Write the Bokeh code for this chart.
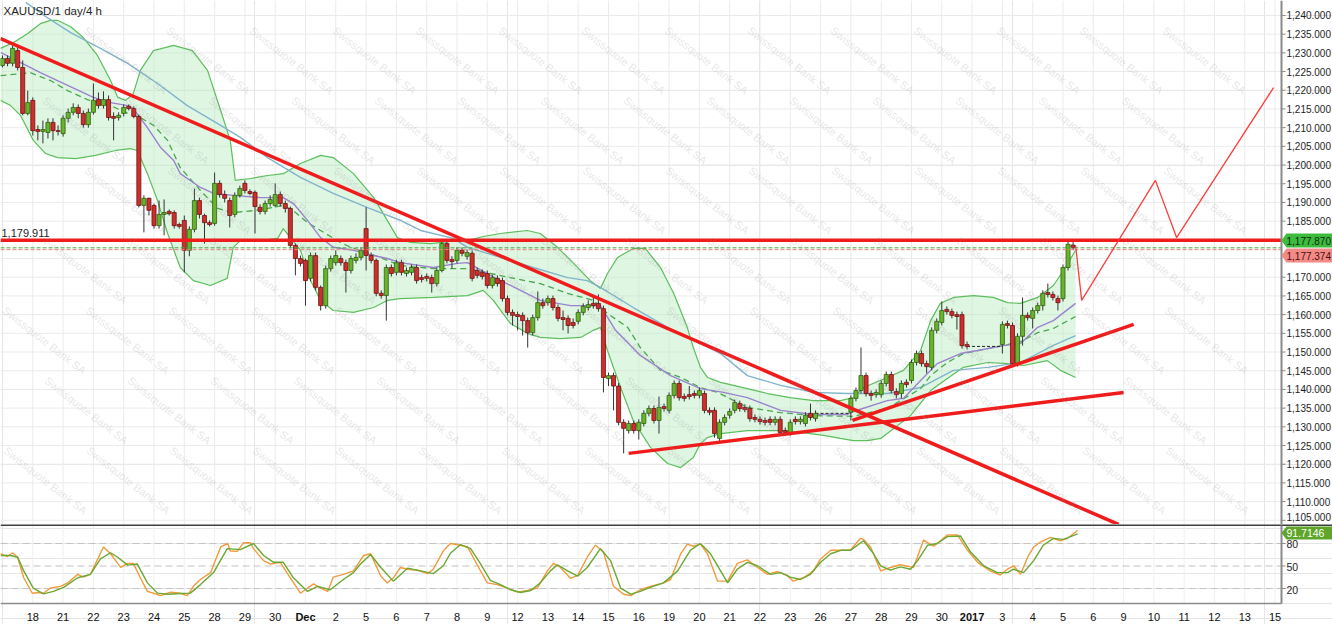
from bokeh.plotting import figure
from bokeh.models import Range1d
from bokeh.layouts import column
from bokeh.embed import file_html
from bokeh.resources import INLINE
from bokeh.core.properties import value

# ---------------- data ----------------
chart_title = "XAUUSD/1 day/4 h"
day_labels = ["18", "21", "22", "23", "24", "25", "28", "29", "30", "Dec", "2", "5", "6", "7", "8", "9",
              "12", "13", "14", "15", "16", "19", "20", "21", "22", "23", "26", "27", "28", "29", "30",
              "2017", "3", "4", "5", "6", "9", "10", "11", "12", "13", "15"]
bold_labels = ["Dec", "2017"]
bars_per_day = 6

# 4h bar index (holiday gaps 162-167 and 192-197 have no bars)
bar_index = list(range(0, 162)) + list(range(168, 192)) + list(range(198, 213))

opens = [1226.6, 1228.5, 1227.2, 1230.6, 1226.1, 1213.8, 1217.3, 1209.5, 1209.0, 1208.7,
         1211.4, 1209.2, 1208.4, 1212.5, 1214.1, 1215.4, 1213.8, 1210.8, 1214.1, 1217.5,
         1215.9, 1217.5, 1213.0, 1212.7, 1213.8, 1215.7, 1215.1, 1213.0, 1189.2, 1191.1,
         1189.2, 1183.8, 1186.8, 1187.6, 1187.3, 1184.1, 1185.2, 1177.2, 1182.8, 1190.5,
         1186.5, 1184.6, 1184.4, 1195.1, 1192.1, 1190.5, 1186.8, 1191.9, 1195.1, 1192.9,
         1192.7, 1188.7, 1187.6, 1189.7, 1189.2, 1192.1, 1189.7, 1188.4, 1178.5, 1175.0,
         1174.5, 1169.7, 1175.8, 1167.3, 1162.4, 1172.3, 1173.9, 1175.0, 1173.9, 1171.8,
         1174.5, 1175.3, 1183.0, 1175.8, 1174.5, 1165.7, 1165.1, 1172.6, 1171.3, 1173.9,
         1171.0, 1171.3, 1172.6, 1169.9, 1170.2, 1169.9, 1168.3, 1171.8, 1179.0, 1174.7,
         1174.5, 1177.2, 1175.6, 1176.4, 1171.8, 1171.3, 1171.0, 1167.8, 1169.7, 1169.1,
         1164.3, 1160.6, 1160.0, 1159.8, 1158.4, 1155.2, 1159.2, 1163.2, 1163.2, 1164.3,
         1161.9, 1159.2, 1159.0, 1157.9, 1158.2, 1160.6, 1161.9, 1163.0, 1163.0, 1161.6,
         1142.9, 1143.7, 1140.9, 1131.2, 1129.0, 1130.9, 1129.0, 1130.9, 1133.6, 1134.9,
         1131.7, 1135.4, 1134.4, 1138.4, 1141.6, 1138.1, 1138.6, 1138.9, 1138.4, 1138.9,
         1134.4, 1134.4, 1126.9, 1131.2, 1133.1, 1134.4, 1136.2, 1135.2, 1134.9, 1132.5,
         1132.0, 1131.7, 1132.0, 1131.2, 1132.0, 1129.0, 1128.5, 1132.0, 1131.4, 1130.9,
         1133.6, 1132.2,
         1133.9, 1137.6, 1139.7, 1143.7, 1138.9, 1138.6, 1138.6, 1141.6, 1144.0, 1139.4,
         1138.9, 1141.9, 1142.4, 1147.2, 1149.6, 1146.9, 1145.9, 1155.8, 1157.9, 1161.4,
         1160.8, 1160.0, 1160.0, 1152.0,
         1152.0, 1157.6, 1157.1, 1146.9, 1154.2, 1159.8, 1159.0, 1161.1, 1162.4, 1165.9,
         1165.4, 1164.3, 1164.3, 1172.6, 1178.6]
highs = [1229.3, 1229.3, 1232.0, 1232.0, 1228.0, 1219.9, 1218.1, 1210.6, 1211.9, 1212.5,
         1212.5, 1210.6, 1213.3, 1215.1, 1216.5, 1216.2, 1214.6, 1215.1, 1221.8, 1219.4,
         1219.7, 1218.6, 1214.1, 1214.1, 1216.2, 1216.2, 1215.7, 1213.5, 1191.9, 1191.3,
         1189.7, 1190.5, 1190.8, 1188.1, 1187.9, 1184.6, 1186.5, 1183.6, 1193.7, 1191.3,
         1187.0, 1185.2, 1198.0, 1195.9, 1193.2, 1191.3, 1192.7, 1194.5, 1195.9, 1193.5,
         1193.2, 1189.5, 1190.5, 1191.9, 1195.1, 1192.9, 1190.5, 1188.9, 1179.0, 1175.8,
         1175.0, 1176.6, 1176.6, 1167.8, 1173.1, 1175.8, 1177.2, 1175.8, 1174.7, 1175.8,
         1176.4, 1178.0, 1188.7, 1176.6, 1175.0, 1166.5, 1173.4, 1173.4, 1174.7, 1174.7,
         1172.6, 1173.4, 1173.4, 1170.7, 1171.0, 1170.7, 1172.6, 1179.8, 1179.8, 1175.6,
         1178.0, 1178.0, 1177.4, 1177.2, 1172.6, 1172.1, 1171.8, 1170.7, 1170.5, 1169.9,
         1165.1, 1161.4, 1160.8, 1160.6, 1159.2, 1160.0, 1166.2, 1164.3, 1165.1, 1165.1,
         1162.7, 1161.1, 1159.8, 1159.0, 1161.4, 1163.0, 1163.8, 1165.1, 1165.4, 1162.4,
         1144.5, 1144.5, 1141.7, 1132.0, 1131.7, 1131.7, 1132.0, 1134.4, 1135.7, 1135.7,
         1138.1, 1136.2, 1139.2, 1142.4, 1142.4, 1138.9, 1140.9, 1139.7, 1140.5, 1139.7,
         1135.2, 1135.2, 1132.0, 1133.3, 1134.9, 1137.3, 1137.0, 1136.0, 1135.7, 1133.3,
         1132.8, 1132.5, 1132.8, 1132.8, 1132.8, 1129.8, 1132.0, 1132.8, 1132.8, 1133.9,
         1136.2, 1134.4,
         1138.4, 1140.5, 1151.2, 1144.5, 1139.7, 1140.0, 1142.4, 1144.8, 1144.8, 1140.3,
         1142.4, 1142.7, 1148.0, 1150.4, 1150.4, 1147.7, 1156.6, 1159.0, 1163.5, 1162.2,
         1161.6, 1160.8, 1160.8, 1152.8,
         1158.2, 1158.4, 1157.9, 1155.0, 1164.6, 1160.6, 1161.9, 1163.2, 1166.5, 1168.3,
         1166.2, 1165.1, 1173.4, 1179.6, 1179.6]
lows = [1226.1, 1226.4, 1226.4, 1225.3, 1213.3, 1213.3, 1207.9, 1206.6, 1205.8, 1207.1,
        1206.6, 1207.9, 1207.6, 1211.4, 1213.3, 1212.5, 1210.0, 1210.0, 1213.5, 1215.1,
        1215.1, 1211.9, 1206.6, 1211.9, 1213.0, 1214.6, 1212.5, 1188.7, 1182.0, 1186.5,
        1183.0, 1183.0, 1181.2, 1186.5, 1183.0, 1183.0, 1171.3, 1175.6, 1182.0, 1185.7,
        1179.0, 1183.6, 1183.8, 1191.3, 1190.0, 1183.3, 1186.0, 1191.3, 1192.4, 1191.9,
        1181.7, 1186.8, 1186.8, 1188.9, 1188.7, 1188.9, 1187.3, 1177.7, 1170.5, 1172.9,
        1162.4, 1168.9, 1166.5, 1161.1, 1161.6, 1171.5, 1173.1, 1173.1, 1165.9, 1171.0,
        1173.7, 1174.5, 1171.8, 1173.7, 1164.9, 1164.3, 1158.4, 1170.2, 1170.5, 1170.5,
        1170.2, 1170.5, 1168.3, 1168.6, 1168.9, 1165.9, 1167.5, 1171.3, 1173.7, 1172.3,
        1173.7, 1175.6, 1174.7, 1168.9, 1169.7, 1169.4, 1167.0, 1167.0, 1167.5, 1163.5,
        1159.8, 1157.1, 1155.8, 1154.4, 1151.2, 1154.4, 1158.4, 1161.6, 1162.4, 1161.1,
        1158.2, 1155.8, 1155.0, 1156.3, 1157.4, 1159.8, 1161.1, 1161.6, 1160.8, 1139.2,
        1140.9, 1134.4, 1130.4, 1122.9, 1128.2, 1128.2, 1126.6, 1130.1, 1132.8, 1130.9,
        1128.2, 1134.1, 1133.6, 1137.6, 1137.0, 1136.8, 1137.3, 1137.6, 1137.6, 1133.6,
        1133.1, 1127.1, 1126.1, 1130.4, 1132.2, 1133.6, 1134.1, 1133.9, 1131.4, 1131.2,
        1130.6, 1130.4, 1130.4, 1130.4, 1127.6, 1128.0, 1127.6, 1130.6, 1130.6, 1130.1,
        1131.7, 1131.4,
        1131.7, 1136.8, 1138.9, 1138.1, 1137.0, 1137.8, 1137.8, 1140.8, 1138.9, 1137.6,
        1137.6, 1140.5, 1141.6, 1146.4, 1146.1, 1144.3, 1145.1, 1155.0, 1157.1, 1160.0,
        1159.0, 1156.0, 1150.9, 1150.7,
        1149.6, 1156.3, 1146.1, 1146.1, 1151.7, 1158.4, 1156.3, 1160.3, 1161.1, 1164.6,
        1163.8, 1161.1, 1163.5, 1171.8, 1177.2]
closes = [1228.5, 1227.2, 1231.2, 1226.1, 1213.8, 1216.7, 1209.2, 1209.0, 1209.5, 1211.4,
          1209.2, 1209.0, 1212.5, 1214.1, 1215.4, 1213.8, 1210.8, 1214.1, 1217.3, 1215.9,
          1217.5, 1212.7, 1212.5, 1213.3, 1215.4, 1215.1, 1213.0, 1189.2, 1191.1, 1187.9,
          1183.8, 1186.8, 1187.3, 1187.0, 1183.8, 1183.6, 1177.2, 1182.8, 1190.5, 1186.8,
          1184.6, 1184.1, 1195.1, 1192.1, 1191.1, 1186.5, 1191.9, 1193.7, 1193.2, 1192.4,
          1188.9, 1187.6, 1189.7, 1190.8, 1192.1, 1189.7, 1188.4, 1178.5, 1175.0, 1173.7,
          1169.1, 1175.8, 1167.3, 1162.4, 1172.3, 1175.0, 1175.8, 1173.9, 1171.8, 1175.0,
          1175.3, 1177.2, 1175.8, 1174.5, 1165.7, 1165.1, 1172.6, 1171.0, 1173.9, 1171.3,
          1171.8, 1172.6, 1169.1, 1169.4, 1169.7, 1168.3, 1171.8, 1179.0, 1174.5, 1174.2,
          1177.2, 1176.4, 1176.6, 1169.7, 1170.5, 1170.2, 1167.8, 1169.9, 1168.3, 1164.3,
          1160.6, 1159.8, 1159.5, 1158.4, 1155.2, 1159.2, 1163.2, 1162.4, 1164.3, 1161.9,
          1159.0, 1158.7, 1157.1, 1157.1, 1160.6, 1162.2, 1162.7, 1162.4, 1161.6, 1143.2,
          1143.7, 1140.9, 1131.2, 1129.6, 1130.9, 1129.0, 1131.2, 1133.6, 1134.9, 1131.7,
          1135.2, 1134.9, 1138.4, 1141.6, 1137.8, 1137.6, 1138.1, 1138.4, 1139.7, 1134.4,
          1133.9, 1128.2, 1131.2, 1132.5, 1134.1, 1136.5, 1134.9, 1134.6, 1132.2, 1132.0,
          1131.4, 1131.2, 1131.2, 1132.0, 1128.5, 1128.5, 1131.2, 1131.4, 1132.0, 1133.1,
          1132.5, 1133.6,
          1137.6, 1139.7, 1143.7, 1138.9, 1138.4, 1139.2, 1141.6, 1144.0, 1139.7, 1138.6,
          1141.6, 1141.3, 1147.2, 1149.6, 1146.9, 1146.1, 1155.8, 1158.2, 1161.1, 1160.8,
          1159.8, 1159.5, 1151.7, 1151.5,
          1157.4, 1157.1, 1146.9, 1154.2, 1159.8, 1159.2, 1161.1, 1162.4, 1165.7, 1165.4,
          1164.6, 1163.2, 1172.6, 1178.8, 1177.87]

# Bollinger bands / moving averages (bar index, price)
bb_upper_x = [-0.4, 2.2, 5.0, 7.5, 9.5, 10.9, 13.5, 16.0, 18.8, 21.4, 22.8, 24.4, 25.9, 27.3, 29.9,
              33.9, 37.6, 40.6, 43.2, 45.1, 46.1, 49.1, 52.5, 55.6, 59.0, 63.0, 65.5, 69.5, 73.5,
              76.2, 78.2, 80.8, 84.8, 88.7, 92.1, 95.2, 98.6, 103.9, 106.5, 109.9, 113.1, 116.4,
              118.4, 119.8, 121.8, 124.9, 127.3, 130.3, 132.9, 135.6, 136.8, 138.2, 139.6, 142.2,
              147.5, 151.5, 156.0, 160.6, 165.9, 168.5, 170.5, 175.2, 178.4, 181.8, 183.8, 185.7,
              188.3, 192.3, 196.2, 199.0, 201.6, 205.0, 208.1, 210.1, 212.5]
bb_upper_y = [1231.2, 1232.8, 1235.2, 1237.8, 1238.7, 1238.7, 1237.0, 1234.1, 1229.3, 1222.6, 1218.1,
              1217.3, 1219.1, 1225.3, 1230.6, 1232.0, 1230.6, 1225.3, 1214.6, 1206.6, 1195.9, 1196.4,
              1197.2, 1197.7, 1200.4, 1202.6, 1202.0, 1197.7, 1191.3, 1185.2, 1180.6, 1179.3, 1179.0,
              1179.6, 1179.8, 1180.9, 1181.7, 1182.5, 1181.7, 1178.0, 1173.7, 1169.1, 1167.0, 1171.0,
              1175.3, 1177.7, 1177.7, 1172.6, 1165.7, 1156.6, 1151.2, 1145.9, 1143.2, 1141.9, 1140.2,
              1138.9, 1137.8, 1137.0, 1137.0, 1137.8, 1140.5, 1143.2, 1145.1, 1150.4, 1158.4, 1163.0,
              1164.6, 1165.1, 1164.6, 1163.2, 1163.0, 1164.6, 1167.8, 1171.8, 1177.2]
bb_lower_x = [-0.4, 1.6, 3.6, 6.1, 8.5, 10.9, 14.5, 18.4, 22.4, 25.3, 26.7, 28.7, 30.7, 32.7, 35.2,
              37.8, 41.2, 44.5, 45.7, 47.1, 51.1, 54.5, 55.6, 57.0, 59.0, 61.0, 63.0, 65.5, 69.5,
              73.5, 76.2, 78.8, 85.3, 92.1, 95.2, 97.2, 100.6, 103.9, 106.5, 110.5, 114.5, 117.0,
              118.4, 119.8, 122.4, 124.9, 128.3, 131.7, 134.3, 136.8, 138.2, 139.6, 142.2, 147.5,
              154.1, 158.0, 162.6, 165.9, 168.5, 171.3, 173.9, 175.2, 179.8, 183.8, 187.1, 190.3,
              195.1, 199.0, 202.2, 206.9, 209.5, 212.5]
bb_lower_y = [1217.3, 1215.9, 1213.2, 1206.6, 1203.1, 1202.0, 1201.7, 1202.6, 1203.9, 1204.4, 1203.9,
              1197.7, 1190.5, 1181.7, 1172.6, 1169.1, 1167.8, 1169.7, 1178.0, 1179.8, 1179.8, 1180.4,
              1183.0, 1180.6, 1177.2, 1169.1, 1163.8, 1161.1, 1160.6, 1161.9, 1163.8, 1164.3, 1164.6,
              1165.1, 1166.5, 1163.8, 1157.6, 1155.0, 1153.9, 1153.6, 1153.9, 1155.8, 1156.6, 1150.4,
              1140.5, 1131.7, 1124.5, 1120.2, 1119.1, 1121.8, 1125.5, 1127.1, 1128.2, 1129.0, 1129.0,
              1128.5, 1127.7, 1126.9, 1126.3, 1126.3, 1126.9, 1128.2, 1133.0, 1139.7, 1142.9, 1145.9,
              1147.2, 1146.9, 1146.4, 1147.7, 1145.1, 1143.2]
bb_mid_x = [-0.4, 5.5, 9.5, 12.9, 16.8, 21.4, 24.8, 27.3, 29.9, 32.7, 35.2, 39.2, 42.6, 45.7, 49.7,
            52.5, 55.6, 57.6, 60.4, 63.6, 66.9, 69.5, 72.3, 78.8, 85.3, 92.1, 100.6, 106.5, 111.9,
            117.0, 119.8, 123.8, 126.3, 130.3, 134.3, 138.2, 141.6, 147.5, 154.1, 160.6, 168.5,
            175.2, 181.8, 183.8, 187.1, 190.3, 195.1, 199.0, 201.6, 205.0, 208.1, 212.5]
bb_mid_y = [1223.9, 1224.7, 1222.6, 1219.9, 1217.5, 1215.9, 1213.8, 1212.7, 1210.6, 1206.6, 1199.3,
            1193.2, 1188.4, 1187.3, 1187.8, 1188.4, 1189.2, 1187.8, 1184.6, 1182.0, 1179.3, 1177.7,
            1176.6, 1173.1, 1172.3, 1172.3, 1169.9, 1168.3, 1165.7, 1163.8, 1160.3, 1156.6, 1151.2,
            1145.1, 1143.2, 1140.5, 1139.2, 1135.2, 1133.8, 1133.0, 1132.8, 1134.9, 1140.2, 1143.7,
            1147.2, 1149.6, 1150.9, 1152.0, 1152.8, 1155.2, 1156.3, 1159.5]
ma_purple_x = [-0.4, 3.6, 7.5, 12.9, 18.0, 21.4, 24.8, 25.9, 28.7, 31.3, 33.9, 35.2, 39.2, 41.8, 45.7,
               51.1, 55.6, 57.6, 60.4, 63.0, 65.5, 69.5, 73.5, 76.2, 78.8, 85.3, 90.1, 92.1, 96.6,
               100.6, 106.5, 112.5, 118.4, 121.4, 126.3, 132.3, 138.2, 142.8, 147.5, 154.1, 160.6,
               167.3, 168.5, 175.2, 178.4, 181.8, 185.1, 189.7, 193.1, 198.2, 201.6, 205.0, 208.1,
               212.5]
ma_purple_y = [1230.1, 1227.4, 1224.7, 1221.3, 1218.1, 1216.7, 1215.9, 1215.1, 1210.0, 1204.7, 1201.2,
               1197.7, 1194.0, 1192.4, 1191.9, 1191.3, 1191.3, 1189.7, 1185.2, 1180.6, 1178.0, 1177.2,
               1175.8, 1175.0, 1173.9, 1172.6, 1173.7, 1173.9, 1170.5, 1167.8, 1163.8, 1162.4, 1162.4,
               1155.8, 1149.1, 1143.7, 1140.2, 1139.2, 1137.8, 1134.4, 1133.3, 1133.3, 1134.1, 1137.0,
               1137.6, 1142.4, 1146.9, 1149.6, 1150.4, 1151.7, 1152.3, 1156.6, 1158.4, 1163.0]
ma_blue_x = [4.6, 9.1, 13.5, 19.4, 24.8, 30.7, 36.6, 43.2, 47.1, 52.5, 59.0, 65.5, 72.3, 78.8, 82.8,
             89.3, 92.1, 98.6, 105.1, 111.9, 115.8, 118.4, 124.9, 131.7, 138.2, 142.2, 147.5, 154.1,
             160.6, 167.3, 175.2, 181.8, 188.3, 195.1, 201.6, 208.1, 212.5]
ma_blue_y = [1243.5, 1239.2, 1235.4, 1231.2, 1227.2, 1221.8, 1215.9, 1210.6, 1207.4, 1202.0, 1196.7,
             1192.4, 1188.6, 1185.2, 1182.5, 1180.4, 1178.0, 1175.3, 1172.6, 1169.9, 1169.1, 1167.3,
             1161.9, 1156.6, 1152.3, 1149.6, 1143.7, 1141.1, 1139.2, 1138.9, 1138.9, 1140.5, 1145.1,
             1145.9, 1147.2, 1151.8, 1154.4]

# trend lines / projection (bar index, price)
trend_down = ([-0.4, 221.0], [1233.8, 1103.9])
trend_up_low = ([124.0, 222.0], [1122.9, 1139.2])
trend_up_high = ([168.3, 224.0], [1131.7, 1157.4])
projection_x = [212.5, 213.7, 228.3, 232.5, 251.7]
projection_y = [1178.5, 1163.8, 1195.9, 1180.6, 1220.7]
resistance_level = 1179.911
last_price = 1177.870
second_price = 1177.374

# stochastic (bar index, value)
stoch_k_x = [-0.4, 1.0, 2.0, 3.0, 4.2, 5.9, 7.1, 8.1, 9.5, 11.5, 12.9, 14.9, 16.0, 17.4, 20.0, 21.4,
             23.4, 24.8, 25.9, 27.3, 28.7, 29.9, 31.3, 33.3, 35.2, 36.6, 37.8, 39.2, 41.2, 43.2, 44.6,
             45.1, 46.5, 47.7, 49.1, 49.7, 51.7, 53.1, 55.0, 57.0, 59.0, 60.4, 61.6, 63.0, 64.4, 65.5,
             67.5, 69.5, 71.5, 72.9, 74.9, 76.2, 77.4, 78.8, 80.2, 82.2, 84.2, 85.3, 87.3, 88.7,
             90.7, 92.1, 94.1, 96.0, 98.0, 100.0, 102.0, 104.0, 105.9, 107.9, 109.1, 110.5, 112.5,
             113.9, 115.8, 117.4, 119.0, 121.0, 123.0, 124.4, 126.3, 128.3, 130.9, 132.3, 134.3,
             135.6, 136.8, 138.2, 139.6, 141.6, 143.6, 145.5, 147.5, 149.5, 151.5, 153.5, 155.4,
             156.6, 158.6, 160.6, 162.0, 164.0, 166.0, 167.9, 169.9, 170.5, 171.9,
             173.9, 175.8, 177.8, 179.8, 180.4, 182.4, 184.4, 187.1, 189.1, 191.1, 193.1, 195.6,
             197.6, 199.0, 200.2, 201.6, 203.0, 204.2, 205.6, 207.5, 209.5, 210.9, 212.9]
stoch_k_v = [66.3, 62.6, 67.6, 61.7, 34.3, 13.7, 14.6, 13.7, 20.6, 22.8, 27.4, 38.8, 35.2, 38.8, 75.4,
             66.3, 48.1, 53.5, 53.5, 34.3, 16.1, 13.7, 10.6, 15.2, 13.7, 10.6, 22.9, 32.0, 41.1, 75.4,
             80.0, 69.9, 69.5, 80.9, 80.9, 73.2, 57.2, 52.6, 54.9, 34.3, 13.7, 20.6, 26.1, 20.6, 16.1,
             35.2, 38.8, 43.4, 64.0, 66.3, 36.6, 27.4, 34.3, 48.0, 45.7, 44.3, 39.8, 45.7, 70.2, 80.0,
             77.7, 75.4, 50.3, 27.5, 25.2, 20.6, 15.1, 17.4, 20.6, 43.5, 53.5, 48.0, 33.4, 37.5, 61.7,
             77.7, 68.6, 22.9, 12.4, 10.6, 18.3, 22.9, 27.5, 32.0, 66.3, 79.1, 76.3, 79.1, 66.3, 29.8,
             29.8, 53.5, 58.1, 48.0, 38.9, 42.6, 37.5, 29.8, 34.3, 43.5, 59.4, 70.9, 70.9, 70.9, 86.9,
             85.5, 75.4,
             43.5, 48.0, 51.7, 48.9, 48.0, 84.6, 76.3, 91.4, 91.4, 70.9, 54.9, 43.5, 38.0, 45.7, 50.3,
             38.9, 61.7, 75.4, 82.3, 88.2, 83.7, 86.9, 97.4]
stoch_d_x = [-0.4, 1.6, 3.0, 4.2, 6.1, 8.1, 10.1, 12.1, 14.9, 17.4, 19.4, 21.4, 22.8, 24.8, 26.7, 28.7,
             30.7, 32.7, 35.2, 37.2, 39.2, 41.8, 44.5, 47.1, 49.7, 51.7, 53.7, 55.6, 57.6, 60.4, 62.4,
             64.9, 67.5, 69.5, 70.9, 72.9, 74.9, 77.4, 80.2, 82.8, 85.3, 87.3,
             88.7, 90.7, 92.7, 94.7, 96.6, 98.6, 100.6, 102.6, 104.6, 106.5, 108.5, 109.9, 111.9,
             113.9, 115.8, 118.4, 120.4, 122.4, 124.4, 126.3, 128.3, 130.9, 133.7, 136.2, 138.2,
             140.2, 142.2, 143.6, 145.5, 147.5, 149.5, 152.1, 154.1, 156.0, 158.0, 160.0, 162.0,
             164.0, 166.0, 167.9, 170.5, 172.5,
             173.9, 175.8, 177.8, 179.8, 181.2, 183.2, 185.1, 187.1, 189.7, 191.7, 194.3, 197.0,
             199.0, 200.2, 202.2, 204.2, 206.1, 208.1, 210.1, 212.9]
stoch_d_v = [64.0, 64.0, 61.7, 43.5, 20.6, 12.9, 16.1, 21.5, 34.3, 38.9, 59.4, 67.7, 61.7, 51.2, 52.6,
             27.5, 13.8, 12.4, 13.3, 13.8, 25.2, 41.2, 73.1, 71.8, 80.0, 64.0, 54.9, 54.9, 34.3, 16.1,
             22.9, 18.3, 32.0, 41.2, 52.6, 65.4, 48.0, 29.8, 47.1, 43.5, 39.8, 50.3,
             67.0, 78.6, 73.1, 52.6, 30.7, 25.2, 18.3, 14.7, 17.4, 27.5, 43.5, 51.7, 43.5, 36.6, 48.0,
             73.1, 57.2, 20.6, 12.4, 16.1, 21.5, 27.5, 43.5, 70.9, 80.0, 66.3, 43.5, 27.5, 45.7, 54.9,
             50.3, 38.9, 41.2, 35.2, 32.0, 38.9, 54.9, 66.3, 70.9, 70.9, 83.7, 66.3,
             50.3, 44.4, 48.9, 45.7, 57.2, 77.7, 80.0, 89.1, 90.0, 68.6, 50.3, 41.2, 41.2, 45.7, 41.2,
             57.2, 77.7, 86.9, 85.5, 92.8]
stoch_last = 91.7146
stoch_levels = [20, 50, 80]
price_ticks = list(range(1105, 1245, 5))
hidden_price_ticks = [1175, 1180]   # covered by the price badges
watermark = "Swissquote Bank SA"

assert len(bar_index) == len(opens) == len(highs) == len(lows) == len(closes)

# ---------------- layout ----------------
FONT = "Liberation Sans"
W = 1332          # page width
AXIS_PX = 1281    # price-axis position (px from left)
H1, H2 = 524, 100
STOCH_BOTTOM_PX = 79   # px of stochastic plot area inside lower panel (below 1px separator)
day_ticks = [bars_per_day * (i + 1) for i in range(len(day_labels))]

xr = Range1d(-0.396, 263.37)
yr1 = Range1d(1103.88, 1244.0)
yr2 = Range1d(-28.0, 105.33)


def dx(px):                      # px -> data x
    return xr.start + px * (xr.end - xr.start) / W


def ppx(n):                      # length in px -> data x length
    return n * (xr.end - xr.start) / W


def dy1(py):
    return yr1.end - py * (yr1.end - yr1.start) / H1


def dy2(py):                     # py measured from top of lower panel
    return yr2.end - py * (yr2.end - yr2.start) / H2


AX = dx(AXIS_PX)
grid_col = "#ebebeb"
axis_col = "#8a8a8a"
txt_col = "#1e1e1e"

common = dict(output_backend="svg", toolbar_location=None, x_axis_location=None,
              y_axis_location=None, min_border_left=0, min_border_right=0, min_border_top=0,
              min_border_bottom=0, x_range=xr)

# ================= main price panel =================
p1 = figure(width=W, height=H1, y_range=yr1, **common)
p1.outline_line_color = None

# grids
p1.segment(x0=day_ticks, x1=day_ticks, y0=[yr1.start] * len(day_ticks), y1=[yr1.end] * len(day_ticks),
           line_color=grid_col, line_width=1)
p1.segment(x0=[xr.start] * len(price_ticks), x1=[AX] * len(price_ticks), y0=price_ticks, y1=price_ticks,
           line_color=grid_col, line_width=1)

# Bollinger fill and lines
p1.patch(bb_upper_x + bb_lower_x[::-1], bb_upper_y + bb_lower_y[::-1],
         fill_color="#b8ebc2", fill_alpha=0.45, line_color=None)
p1.line(bb_upper_x, bb_upper_y, line_color="#5cbf5c", line_width=1.2)
p1.line(bb_lower_x, bb_lower_y, line_color="#5cbf5c", line_width=1.2)
p1.line(ma_blue_x, ma_blue_y, line_color="#80b4cc", line_width=1.4)
p1.line(bb_mid_x, bb_mid_y, line_color="#47a84b", line_width=1.3, line_dash="6 4")
p1.line(ma_purple_x, ma_purple_y, line_color="#9b82cf", line_width=1.4)

# gap markers (dashed line at prior close across missing bars)
for k in range(1, len(bar_index)):
    if bar_index[k] - bar_index[k - 1] > 1:
        p1.line([bar_index[k - 1], bar_index[k]], [closes[k - 1], closes[k - 1]],
                line_color="#222222", line_dash="3 2", line_width=1)

# candles
up = [c >= o for o, c in zip(opens, closes)]
body_top = [max(o, c) for o, c in zip(opens, closes)]
body_bot = [min(o, c) for o, c in zip(opens, closes)]
fill = ["#68b42c" if u else "#cc2f2c" for u in up]
edge = ["#2f5f10" if u else "#6e1212" for u in up]
p1.segment(x0=bar_index, y0=highs, x1=bar_index, y1=lows, line_color="#333333", line_width=1)
p1.vbar(x=bar_index, width=0.8, top=body_top, bottom=body_bot, fill_color=fill, line_color=edge,
        line_width=0.8)

# horizontal levels (stop at the price axis)
red = "#f01c1c"
p1.segment(x0=[xr.start], x1=[AX], y0=[last_price], y1=[last_price], line_color="#46a846",
           line_width=1, line_dash="4 2")
p1.segment(x0=[xr.start], x1=[AX], y0=[second_price], y1=[second_price], line_color="#f08080",
           line_width=1, line_dash="4 2")
p1.segment(x0=[xr.start], x1=[AX], y0=[resistance_level], y1=[resistance_level], line_color=red,
           line_width=3.5)

# trend lines
p1.line(*trend_down, line_color=red, line_width=3.5)
p1.line(*trend_up_low, line_color=red, line_width=3.5)
p1.line(*trend_up_high, line_color=red, line_width=3.5)
p1.line(projection_x, projection_y, line_color="#ff3b3b", line_width=1.3)

# watermark (only fully visible copies)
wx1, wy1, wx2, wy2 = [], [], [], []
for j in range(-2, 12):
    py = -10 + 70 * j
    for i in range(-3, 19):
        px = 83 * i + (42 * j) % 83
        if 44 <= px <= AXIS_PX - 44:
            if 36 <= py <= H1 - 36:
                wx1.append(dx(px)); wy1.append(dy1(py))
            elif 36 <= py - H1 <= STOCH_BOTTOM_PX - 30:
                wx2.append(dx(px)); wy2.append(dy2(py - H1))
wm_style = dict(text_font=value(FONT), text_font_size="11px", text_color="#8c8c8c",
                text_alpha=0.22, angle=-0.66, text_align="center", text_baseline="middle")
p1.text(x=wx1, y=wy1, text=[watermark] * len(wx1), **wm_style)

# price axis
p1.segment(x0=[AX], x1=[AX], y0=[yr1.start], y1=[yr1.end], line_color=axis_col, line_width=2)
shown = [t for t in price_ticks if t not in hidden_price_ticks]
p1.segment(x0=[AX] * len(shown), x1=[AX + ppx(4)] * len(shown), y0=shown, y1=shown,
           line_color=axis_col, line_width=1)
lab_y_off = [-3 if t == min(price_ticks) else 0 for t in shown]
p1.text(x=[AX + ppx(5)] * len(shown), y=shown, text=[f"{t:,.3f}" for t in shown],
        y_offset=lab_y_off, text_font=value(FONT), text_font_size="10px", text_color=txt_col,
        text_align="left", text_baseline="middle")

# price badges
def badge(fig, yc, hpx, conv_y, fill_color):
    x_pts = [AX, AX + ppx(5), dx(W), dx(W), AX + ppx(5)]
    y_pts = [yc, conv_y(hpx[0]), conv_y(hpx[0]), conv_y(hpx[1]), conv_y(hpx[1])]
    fig.patch(x_pts, y_pts, fill_color=fill_color, line_color=None)


badge(p1, dy1(240), (233, 247), dy1, "#3dbb3d")
badge(p1, dy1(255), (248, 262), dy1, "#f48a86")
p1.text(x=[AX + ppx(5)] * 2, y=[dy1(240), dy1(255)],
        text=[f"{last_price:,.3f}", f"{second_price:,.3f}"],
        text_color=["#0f2a0f", "#4a0f0f"], text_font=value(FONT), text_font_size="10px",
        text_align="left", text_baseline="middle")

# texts
p1.text(x=[dx(3)], y=[dy1(4)], text=[chart_title], text_font=value(FONT), text_font_size="11.5px",
        text_color=txt_col, text_baseline="top", text_align="left")
p1.text(x=[dx(1)], y=[resistance_level], y_offset=[-3], text=[f"{resistance_level:,.3f}"],
        text_font=value(FONT), text_font_size="11px", text_color=txt_col,
        text_baseline="bottom", text_align="left")

# ================= stochastic panel =================
p2 = figure(width=W, height=H2, y_range=yr2, **common)
p2.outline_line_color = None
v_top, v_bot = dy2(1), 0.0
p2.segment(x0=day_ticks, x1=day_ticks, y0=[v_bot] * len(day_ticks), y1=[v_top] * len(day_ticks),
           line_color="#f0f0f0", line_width=1)
p2.segment(x0=[xr.start] * 3, x1=[AX] * 3, y0=stoch_levels, y1=stoch_levels, line_color="#c4c4c4",
           line_width=1.2, line_dash="7 4")
p2.text(x=wx2, y=wy2, text=[watermark] * len(wx2), **wm_style)
p2.line(stoch_k_x, stoch_k_v, line_color="#f39a3c", line_width=1.4)
p2.line(stoch_d_x, stoch_d_v, line_color="#6aa832", line_width=1.4)

# separator and axes
p2.segment(x0=[xr.start], x1=[xr.end], y0=[dy2(0.5)], y1=[dy2(0.5)], line_color="#000000",
           line_width=1.5)
p2.segment(x0=[xr.start], x1=[AX], y0=[v_bot], y1=[v_bot], line_color=axis_col, line_width=1.5)
p2.segment(x0=[AX], x1=[AX], y0=[v_bot], y1=[v_top], line_color=axis_col, line_width=2)
p2.segment(x0=[AX] * 3, x1=[AX + ppx(4)] * 3, y0=stoch_levels, y1=stoch_levels,
           line_color=axis_col, line_width=1)

# stochastic badge (drawn before the level labels so "80" stays readable)
badge(p2, dy2(8.5), (2, 15), dy2, "#5ea52a")
p2.text(x=[AX + ppx(5)], y=[dy2(8.5)], text=[f"{stoch_last:.4f}"], text_font=value(FONT),
        text_font_size="10.5px", text_color="#ffffff", text_align="left", text_baseline="middle")
p2.text(x=[AX + ppx(5)] * 3, y=stoch_levels, y_offset=[2, 1, 1], text=[str(v) for v in stoch_levels],
        text_font=value(FONT), text_font_size="10.5px", text_color=txt_col, text_align="left",
        text_baseline="middle")

# date labels
lab_y = dy2(92)
normal = [(t, l) for t, l in zip(day_ticks, day_labels) if l not in bold_labels]
bold = [(t, l) for t, l in zip(day_ticks, day_labels) if l in bold_labels]
p2.text(x=[t for t, _ in normal], y=[lab_y] * len(normal), text=[l for _, l in normal],
        text_font=value(FONT), text_font_size="11px", text_color="#111111", text_align="center",
        text_baseline="middle")
p2.text(x=[t for t, _ in bold], y=[lab_y] * len(bold), text=[l for _, l in bold],
        text_font=value(FONT), text_font_size="11px", text_font_style="bold", text_color="#111111",
        text_align="center", text_baseline="middle")

layout = column(p1, p2, spacing=0)
open("out.html", "w").write(file_html(layout, INLINE))
